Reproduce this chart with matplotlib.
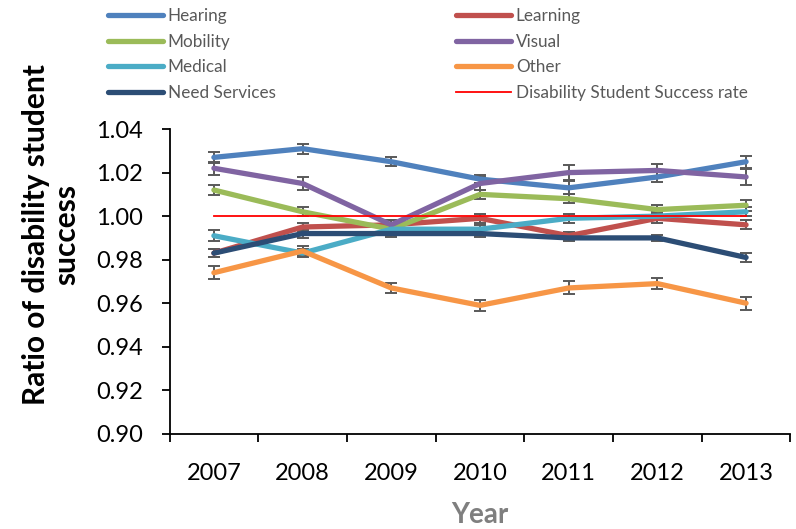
import numpy as np
import matplotlib
matplotlib.use('Agg')
import matplotlib.pyplot as plt
from matplotlib.lines import Line2D

plt.rcParams['font.family'] = ['Lato', 'DejaVu Sans']

years = ['2007', '2008', '2009', '2010', '2011', '2012', '2013']

hearing = [1.027, 1.031, 1.025, 1.017, 1.013, 1.018, 1.025]
learning = [0.983, 0.995, 0.996, 0.999, 0.991, 0.999, 0.996]
mobility = [1.012, 1.002, 0.994, 1.010, 1.008, 1.003, 1.005]
visual = [1.022, 1.015, 0.996, 1.015, 1.020, 1.021, 1.018]
medical = [0.991, 0.983, 0.994, 0.994, 0.999, 1.000, 1.002]
other = [0.974, 0.984, 0.967, 0.959, 0.967, 0.969, 0.960]
need_services = [0.983, 0.992, 0.992, 0.992, 0.990, 0.990, 0.981]
success_rate = [1.000, 1.000, 1.000, 1.000, 1.000, 1.000, 1.000]

hearing_err = [0.0025, 0.0023, 0.002, 0.002, 0.003, 0.0025, 0.0028]
learning_err = [0.002, 0.002, 0.002, 0.002, 0.0015, 0.002, 0.002]
mobility_err = [0.0025, 0.002, 0.002, 0.002, 0.002, 0.002, 0.0025]
visual_err = [0.003, 0.003, 0.002, 0.003, 0.0035, 0.003, 0.0035]
medical_err = [0.0025, 0.002, 0.0015, 0.002, 0.002, 0.002, 0.002]
other_err = [0.003, 0.0025, 0.0025, 0.0025, 0.003, 0.0025, 0.003]
need_err = [0.002, 0.002, 0.0015, 0.0015, 0.0015, 0.0015, 0.002]

series = [
    ('Hearing', hearing, hearing_err, '#4F81BD'),
    ('Learning', learning, learning_err, '#C0504D'),
    ('Mobility', mobility, mobility_err, '#9BBB59'),
    ('Visual', visual, visual_err, '#8064A2'),
    ('Medical', medical, medical_err, '#4BACC6'),
    ('Other', other, other_err, '#F79646'),
    ('Need Services', need_services, need_err, '#2C4D75'),
]

fig = plt.figure(figsize=(7.96, 5.29), dpi=100)
ax = fig.add_axes([0.213, 0.18, 0.78, 0.576])

x = np.arange(len(years))
handles = {}
for name, vals, err, col in series:
    ax.errorbar(x, vals, yerr=err, fmt='-', color=col, lw=3.8,
                ecolor='#595959', elinewidth=1.4, capsize=4, capthick=1.4,
                solid_capstyle='round', zorder=2)
    handles[name] = Line2D([], [], color=col, lw=3.8, solid_capstyle='round')

# overall success rate reference line
ax.plot(x, success_rate, color='#FF0000', lw=1.3, zorder=3)
handles['Disability Student Success rate'] = Line2D([], [], color='#FF0000', lw=1.3)

ax.set_xlim(-0.5, len(years) - 0.5)
ax.set_ylim(0.90, 1.04)
ax.set_yticks(np.arange(0.90, 1.0401, 0.02))
ax.set_yticklabels([f'{v:.2f}' for v in np.arange(0.90, 1.0401, 0.02)])
ax.set_xticks(x)
ax.set_xticklabels(years)
ax.set_xticks(np.arange(-0.5, len(years)), minor=True)
ax.tick_params(axis='x', which='major', length=0, pad=21, labelsize=17)
ax.tick_params(axis='x', which='minor', length=6, width=1.3, direction='out')
ax.tick_params(axis='y', length=6, width=1.3, direction='out', labelsize=17, pad=13)
for s in ['top', 'right']:
    ax.spines[s].set_visible(False)
for s in ['left', 'bottom']:
    ax.spines[s].set_linewidth(1.3)

fig.text(0.064, 0.556, 'Ratio of disability student\nsuccess', rotation=90,
         ha='center', va='center', fontsize=21.5, fontweight='bold',
         multialignment='center', linespacing=1.12)
fig.text(0.603, 0.002, 'Year', ha='center', va='bottom', fontsize=20,
         fontweight='bold', color='#7F7F7F')

left_names = ['Hearing', 'Mobility', 'Medical', 'Need Services']
right_names = ['Learning', 'Visual', 'Other', 'Disability Student Success rate']
for names, xpos in [(left_names, 108), (right_names, 456)]:
    leg = fig.legend([handles[n] for n in names], names, loc='upper left',
                     bbox_to_anchor=(xpos / 796, 1 - 8 / 529), frameon=False,
                     fontsize=12.3, handlelength=3.2, handletextpad=0.3,
                     labelspacing=0.56, borderpad=0, borderaxespad=0)
    for t in leg.get_texts():
        t.set_color('#595959')

fig.savefig('out.png', dpi=100, facecolor='white')
